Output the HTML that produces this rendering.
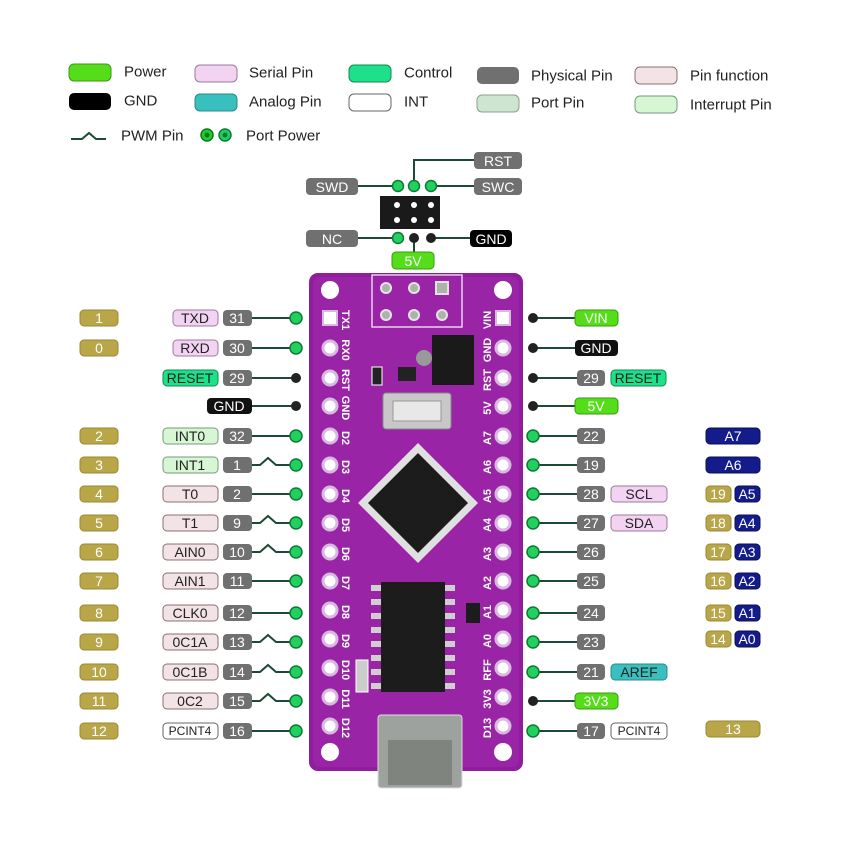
<!DOCTYPE html>
<html><head><meta charset="utf-8"><style>
html,body{margin:0;padding:0;background:#fff}
svg{display:block}
text{font-family:"Liberation Sans",sans-serif}
.l{font-size:14px;fill:#fff;text-anchor:middle;dominant-baseline:central}
.d{font-size:14px;fill:#222;text-anchor:middle;dominant-baseline:central}
.s{font-size:12px}
.lg{font-size:15px;fill:#222;dominant-baseline:central}
.ph{fill:#707070}
.ar{fill:#b8a648;stroke:#9a8a30;stroke-width:1}
.pk{fill:#f2d4f2;stroke:#9a7a9a;stroke-width:1}
.fn{fill:#f3e2e6;stroke:#8a7070;stroke-width:1}
.it{fill:#d6f6d4;stroke:#7a9a7a;stroke-width:1}
.ct{fill:#1fe08a;stroke:#128a50;stroke-width:1}
.pw{fill:#55dd1a;stroke:#3a9a10;stroke-width:1}
.bl{fill:#141c8c;stroke:#0a0f50;stroke-width:1}
.wt{fill:#fff;stroke:#666;stroke-width:1}
.ln{stroke:#1d4a35;stroke-width:2;fill:none}
.gd{fill:#22d060;stroke:#0d7a35;stroke-width:1.5}
.hole{fill:#fff;stroke:#d8b8e0;stroke-width:3}
.pl{fill:#fff;font-size:11px;font-weight:bold;dominant-baseline:central;text-anchor:middle}
</style></head><body>
<svg width="850" height="850" viewBox="0 0 850 850" xmlns="http://www.w3.org/2000/svg">
<!-- Legend -->
<rect x="69" y="64" width="42" height="17" rx="5" class="pw"/><text x="124" y="72" class="lg">Power</text>
<rect x="69" y="93" width="42" height="17" rx="5" fill="#000"/><text x="124" y="101" class="lg">GND</text>
<rect x="195" y="65" width="42" height="17" rx="5" class="pk"/><text x="249" y="73" class="lg">Serial Pin</text>
<rect x="195" y="94" width="42" height="17" rx="5" fill="#3abfbf" stroke="#2a8a8a"/><text x="249" y="102" class="lg">Analog Pin</text>
<rect x="349" y="65" width="42" height="17" rx="5" class="ct"/><text x="404" y="73" class="lg">Control</text>
<rect x="349" y="94" width="42" height="17" rx="5" class="wt"/><text x="404" y="102" class="lg">INT</text>
<rect x="477" y="67" width="42" height="17" rx="5" class="ph"/><text x="531" y="76" class="lg">Physical Pin</text>
<rect x="477" y="95" width="42" height="17" rx="5" fill="#cde6d2" stroke="#8aa08a"/><text x="531" y="103" class="lg">Port Pin</text>
<rect x="635" y="67" width="42" height="17" rx="5" class="fn"/><text x="690" y="76" class="lg">Pin function</text>
<rect x="635" y="96" width="42" height="17" rx="5" class="it"/><text x="690" y="105" class="lg">Interrupt Pin</text>
<path d="M71 139 L82 139 L89 133 L96 139 L106 139" class="ln"/><text x="121" y="136" class="lg">PWM Pin</text>
<circle cx="207" cy="135" r="6" fill="#22cc33" stroke="#0a7a15" stroke-width="1.5"/><circle cx="207" cy="135" r="2.5" fill="#0a7a15"/>
<circle cx="225" cy="135" r="6" class="gd" fill="#2ee090"/><circle cx="225" cy="135" r="2.5" fill="#0a7a35"/>
<text x="246" y="136" class="lg">Port Power</text>

<!-- ICSP header labels -->
<rect x="380" y="196" width="60" height="33" fill="#1a1a1a"/>
<g fill="#fff"><circle cx="397" cy="205" r="3"/><circle cx="414" cy="205" r="3"/><circle cx="431" cy="205" r="3"/><circle cx="397" cy="220" r="3"/><circle cx="414" cy="220" r="3"/><circle cx="431" cy="220" r="3"/></g>
<path d="M358 186 L398 186 M431 186 L474 186 M414 186 L414 160 L474 160 M358 238 L398 238 M431 238 L470 238 M414 238 L414 252" class="ln"/>
<rect x="306" y="178" width="52" height="17" rx="4" class="ph"/><text x="332" y="187" class="l">SWD</text>
<rect x="474" y="152" width="48" height="17" rx="4" class="ph"/><text x="498" y="161" class="l">RST</text>
<rect x="474" y="178" width="48" height="17" rx="4" class="ph"/><text x="498" y="187" class="l">SWC</text>
<rect x="306" y="230" width="52" height="17" rx="4" class="ph"/><text x="332" y="239" class="l">NC</text>
<rect x="470" y="230" width="42" height="17" rx="4" fill="#000"/><text x="491" y="239" class="l">GND</text>
<rect x="392" y="252" width="42" height="17" rx="4" class="pw"/><text x="413" y="261" class="l">5V</text>
<circle cx="398" cy="186" r="5.5" class="gd"/><circle cx="414" cy="186" r="5.5" class="gd"/><circle cx="431" cy="186" r="5.5" class="gd"/>
<circle cx="398" cy="238" r="5.5" class="gd"/><circle cx="414" cy="238" r="5" fill="#222"/><circle cx="431" cy="238" r="5" fill="#222"/>

<!-- Board -->
<rect x="309" y="273" width="214" height="498" rx="9" fill="#8f1d9c"/>
<rect x="313" y="277" width="206" height="490" rx="7" fill="#9a24a6"/>
<rect x="372" y="275" width="90" height="52" fill="none" stroke="#e9d0ef" stroke-width="1.5"/>
<g fill="#aab5a8" stroke="#e7e0e7" stroke-width="2"><circle cx="386" cy="288" r="5"/><circle cx="414" cy="288" r="5"/><rect x="436" y="282" width="12" height="12"/><circle cx="386" cy="315" r="5"/><circle cx="414" cy="315" r="5"/><circle cx="442" cy="315" r="5"/></g>
<circle cx="330" cy="290" r="9" fill="#fff"/><circle cx="503" cy="290" r="9" fill="#fff"/>
<circle cx="330" cy="752" r="9" fill="#fff"/><circle cx="503" cy="752" r="9" fill="#fff"/>
<!-- pin holes -->
<g>
<rect x="323" y="311" width="14" height="14" fill="#fff" stroke="#d8b8e0" stroke-width="2"/>
<circle cx="330" cy="348" r="7" class="hole"/><circle cx="330" cy="378" r="7" class="hole"/><circle cx="330" cy="406" r="7" class="hole"/><circle cx="330" cy="436" r="7" class="hole"/><circle cx="330" cy="465" r="7" class="hole"/><circle cx="330" cy="494" r="7" class="hole"/><circle cx="330" cy="523" r="7" class="hole"/><circle cx="330" cy="552" r="7" class="hole"/><circle cx="330" cy="581" r="7" class="hole"/><circle cx="330" cy="610" r="7" class="hole"/><circle cx="330" cy="639" r="7" class="hole"/><circle cx="330" cy="668" r="7" class="hole"/><circle cx="330" cy="697" r="7" class="hole"/><circle cx="330" cy="726" r="7" class="hole"/>
<rect x="496" y="311" width="14" height="14" fill="#fff" stroke="#d8b8e0" stroke-width="2"/>
<circle cx="503" cy="348" r="7" class="hole"/><circle cx="503" cy="378" r="7" class="hole"/><circle cx="503" cy="406" r="7" class="hole"/><circle cx="503" cy="436" r="7" class="hole"/><circle cx="503" cy="465" r="7" class="hole"/><circle cx="503" cy="494" r="7" class="hole"/><circle cx="503" cy="523" r="7" class="hole"/><circle cx="503" cy="552" r="7" class="hole"/><circle cx="503" cy="581" r="7" class="hole"/><circle cx="503" cy="610" r="7" class="hole"/><circle cx="503" cy="639" r="7" class="hole"/><circle cx="503" cy="668" r="7" class="hole"/><circle cx="503" cy="697" r="7" class="hole"/><circle cx="503" cy="726" r="7" class="hole"/>
</g>
<!-- silkscreen labels -->
<g class="pl">
<text transform="translate(345,320) rotate(90)">TX1</text><text transform="translate(345,350) rotate(90)">RX0</text><text transform="translate(345,380) rotate(90)">RST</text><text transform="translate(345,408) rotate(90)">GND</text><text transform="translate(345,438) rotate(90)">D2</text><text transform="translate(345,467) rotate(90)">D3</text><text transform="translate(345,496) rotate(90)">D4</text><text transform="translate(345,525) rotate(90)">D5</text><text transform="translate(345,554) rotate(90)">D6</text><text transform="translate(345,583) rotate(90)">D7</text><text transform="translate(345,612) rotate(90)">D8</text><text transform="translate(345,641) rotate(90)">D9</text><text transform="translate(345,670) rotate(90)">D10</text><text transform="translate(345,699) rotate(90)">D11</text><text transform="translate(345,728) rotate(90)">D12</text>
<text transform="translate(488,320) rotate(-90)">VIN</text><text transform="translate(488,350) rotate(-90)">GND</text><text transform="translate(488,380) rotate(-90)">RST</text><text transform="translate(488,408) rotate(-90)">5V</text><text transform="translate(488,438) rotate(-90)">A7</text><text transform="translate(488,467) rotate(-90)">A6</text><text transform="translate(488,496) rotate(-90)">A5</text><text transform="translate(488,525) rotate(-90)">A4</text><text transform="translate(488,554) rotate(-90)">A3</text><text transform="translate(488,583) rotate(-90)">A2</text><text transform="translate(488,612) rotate(-90)">A1</text><text transform="translate(488,641) rotate(-90)">A0</text><text transform="translate(488,670) rotate(-90)">RFF</text><text transform="translate(488,699) rotate(-90)">3V3</text><text transform="translate(488,728) rotate(-90)">D13</text>
</g>
<!-- components -->
<rect x="432" y="335" width="42" height="50" fill="#1a1a1a"/><circle cx="424" cy="358" r="8" fill="#999"/>
<rect x="383" y="393" width="68" height="36" rx="3" fill="#c8c8c8" stroke="#888"/><rect x="393" y="401" width="48" height="20" fill="#e8e8e8" stroke="#999"/>
<rect x="372" y="367" width="10" height="18" fill="#222" stroke="#fff"/><rect x="398" y="367" width="18" height="14" fill="#222"/>
<polygon points="418,443 478,503 418,563 358,503" fill="#e0e0e0"/>
<polygon points="418,453 468,503 418,553 368,503" fill="#1c1c1c"/>
<rect x="381" y="582" width="64" height="110" fill="#1c1c1c"/>
<g fill="#cfcfcf"><rect x="371" y="585" width="10" height="6"/><rect x="371" y="599" width="10" height="6"/><rect x="371" y="613" width="10" height="6"/><rect x="371" y="627" width="10" height="6"/><rect x="371" y="641" width="10" height="6"/><rect x="371" y="655" width="10" height="6"/><rect x="371" y="669" width="10" height="6"/><rect x="371" y="683" width="10" height="6"/><rect x="445" y="585" width="10" height="6"/><rect x="445" y="599" width="10" height="6"/><rect x="445" y="613" width="10" height="6"/><rect x="445" y="627" width="10" height="6"/><rect x="445" y="641" width="10" height="6"/><rect x="445" y="655" width="10" height="6"/><rect x="445" y="669" width="10" height="6"/><rect x="445" y="683" width="10" height="6"/></g>
<rect x="356" y="660" width="12" height="32" fill="#ccc" stroke="#fff"/>
<rect x="466" y="603" width="14" height="20" fill="#1c1c1c"/>
<rect x="378" y="715" width="84" height="73" rx="3" fill="#9ea29e" stroke="#ddd"/>
<rect x="388" y="740" width="64" height="45" fill="#7f847f"/>
<!-- left side -->
<g class="ln"><path d="M252 318 H296 M252 348 H296 M252 378 H296 M252 406 H296 M252 436 H296 M252 465 H260 L268 458 L276 465 H296 M252 494 H296 M252 523 H260 L268 516 L276 523 H296 M252 552 H260 L268 545 L276 552 H296 M252 581 H296 M252 613 H296 M252 642 H260 L268 635 L276 642 H296 M252 672 H260 L268 665 L276 672 H296 M252 701 H260 L268 694 L276 701 H296 M252 731 H296"/>
<path d="M533 318 H577 M533 348 H577 M533 378 H577 M533 406 H577 M533 436 H577 M533 465 H577 M533 494 H577 M533 523 H577 M533 552 H577 M533 581 H577 M533 613 H577 M533 642 H577 M533 672 H577 M533 701 H577 M533 731 H577"/></g>
<g>
<circle cx="296" cy="318" r="6" class="gd"/><circle cx="296" cy="348" r="6" class="gd"/><circle cx="296" cy="378" r="5" fill="#222"/><circle cx="296" cy="406" r="5" fill="#222"/><circle cx="296" cy="436" r="6" class="gd"/><circle cx="296" cy="465" r="6" class="gd"/><circle cx="296" cy="494" r="6" class="gd"/><circle cx="296" cy="523" r="6" class="gd"/><circle cx="296" cy="552" r="6" class="gd"/><circle cx="296" cy="581" r="6" class="gd"/><circle cx="296" cy="613" r="6" class="gd"/><circle cx="296" cy="642" r="6" class="gd"/><circle cx="296" cy="672" r="6" class="gd"/><circle cx="296" cy="701" r="6" class="gd"/><circle cx="296" cy="731" r="6" class="gd"/>
<circle cx="533" cy="318" r="5" fill="#222"/><circle cx="533" cy="348" r="5" fill="#222"/><circle cx="533" cy="378" r="5" fill="#222"/><circle cx="533" cy="406" r="5" fill="#222"/><circle cx="533" cy="436" r="6" class="gd"/><circle cx="533" cy="465" r="6" class="gd"/><circle cx="533" cy="494" r="6" class="gd"/><circle cx="533" cy="523" r="6" class="gd"/><circle cx="533" cy="552" r="6" class="gd"/><circle cx="533" cy="581" r="6" class="gd"/><circle cx="533" cy="613" r="6" class="gd"/><circle cx="533" cy="642" r="6" class="gd"/><circle cx="533" cy="672" r="6" class="gd"/><circle cx="533" cy="701" r="5" fill="#222"/><circle cx="533" cy="731" r="6" class="gd"/>
</g>
<!-- left arduino numbers -->
<g>
<rect x="80" y="310" width="38" height="16" rx="4" class="ar"/><text x="99" y="318" class="l">1</text>
<rect x="80" y="340" width="38" height="16" rx="4" class="ar"/><text x="99" y="348" class="l">0</text>
<rect x="80" y="428" width="38" height="16" rx="4" class="ar"/><text x="99" y="436" class="l">2</text>
<rect x="80" y="457" width="38" height="16" rx="4" class="ar"/><text x="99" y="465" class="l">3</text>
<rect x="80" y="486" width="38" height="16" rx="4" class="ar"/><text x="99" y="494" class="l">4</text>
<rect x="80" y="515" width="38" height="16" rx="4" class="ar"/><text x="99" y="523" class="l">5</text>
<rect x="80" y="544" width="38" height="16" rx="4" class="ar"/><text x="99" y="552" class="l">6</text>
<rect x="80" y="573" width="38" height="16" rx="4" class="ar"/><text x="99" y="581" class="l">7</text>
<rect x="80" y="605" width="38" height="16" rx="4" class="ar"/><text x="99" y="613" class="l">8</text>
<rect x="80" y="634" width="38" height="16" rx="4" class="ar"/><text x="99" y="642" class="l">9</text>
<rect x="80" y="664" width="38" height="16" rx="4" class="ar"/><text x="99" y="672" class="l">10</text>
<rect x="80" y="693" width="38" height="16" rx="4" class="ar"/><text x="99" y="701" class="l">11</text>
<rect x="80" y="723" width="38" height="16" rx="4" class="ar"/><text x="99" y="731" class="l">12</text>
</g>
<!-- left function labels -->
<g>
<rect x="173" y="310" width="45" height="16" rx="4" class="pk"/><text x="195" y="318" class="d">TXD</text>
<rect x="173" y="340" width="45" height="16" rx="4" class="pk"/><text x="195" y="348" class="d">RXD</text>
<rect x="163" y="370" width="55" height="16" rx="4" class="ct"/><text x="190" y="378" class="d">RESET</text>
<rect x="207" y="398" width="45" height="16" rx="4" fill="#111"/><text x="229" y="406" class="l">GND</text>
<rect x="163" y="428" width="55" height="16" rx="4" class="it"/><text x="190" y="436" class="d">INT0</text>
<rect x="163" y="457" width="55" height="16" rx="4" class="it"/><text x="190" y="465" class="d">INT1</text>
<rect x="163" y="486" width="55" height="16" rx="4" class="fn"/><text x="190" y="494" class="d">T0</text>
<rect x="163" y="515" width="55" height="16" rx="4" class="fn"/><text x="190" y="523" class="d">T1</text>
<rect x="163" y="544" width="55" height="16" rx="4" class="fn"/><text x="190" y="552" class="d">AIN0</text>
<rect x="163" y="573" width="55" height="16" rx="4" class="fn"/><text x="190" y="581" class="d">AIN1</text>
<rect x="163" y="605" width="55" height="16" rx="4" class="fn"/><text x="190" y="613" class="d">CLK0</text>
<rect x="163" y="634" width="55" height="16" rx="4" class="fn"/><text x="190" y="642" class="d">0C1A</text>
<rect x="163" y="664" width="55" height="16" rx="4" class="fn"/><text x="190" y="672" class="d">0C1B</text>
<rect x="163" y="693" width="55" height="16" rx="4" class="fn"/><text x="190" y="701" class="d">0C2</text>
<rect x="163" y="723" width="55" height="16" rx="4" class="wt"/><text x="190" y="731" class="d s">PCINT4</text>
</g>
<!-- left physical -->
<g>
<rect x="223" y="310" width="29" height="16" rx="4" class="ph"/><text x="237" y="318" class="l">31</text>
<rect x="223" y="340" width="29" height="16" rx="4" class="ph"/><text x="237" y="348" class="l">30</text>
<rect x="223" y="370" width="29" height="16" rx="4" class="ph"/><text x="237" y="378" class="l">29</text>
<rect x="223" y="428" width="29" height="16" rx="4" class="ph"/><text x="237" y="436" class="l">32</text>
<rect x="223" y="457" width="29" height="16" rx="4" class="ph"/><text x="237" y="465" class="l">1</text>
<rect x="223" y="486" width="29" height="16" rx="4" class="ph"/><text x="237" y="494" class="l">2</text>
<rect x="223" y="515" width="29" height="16" rx="4" class="ph"/><text x="237" y="523" class="l">9</text>
<rect x="223" y="544" width="29" height="16" rx="4" class="ph"/><text x="237" y="552" class="l">10</text>
<rect x="223" y="573" width="29" height="16" rx="4" class="ph"/><text x="237" y="581" class="l">11</text>
<rect x="223" y="605" width="29" height="16" rx="4" class="ph"/><text x="237" y="613" class="l">12</text>
<rect x="223" y="634" width="29" height="16" rx="4" class="ph"/><text x="237" y="642" class="l">13</text>
<rect x="223" y="664" width="29" height="16" rx="4" class="ph"/><text x="237" y="672" class="l">14</text>
<rect x="223" y="693" width="29" height="16" rx="4" class="ph"/><text x="237" y="701" class="l">15</text>
<rect x="223" y="723" width="29" height="16" rx="4" class="ph"/><text x="237" y="731" class="l">16</text>
</g>
<!-- right side -->
<g>
<rect x="575" y="310" width="43" height="16" rx="4" class="pw"/><text x="596" y="318" class="l">VIN</text>
<rect x="575" y="340" width="43" height="16" rx="4" fill="#111"/><text x="596" y="348" class="l">GND</text>
<rect x="577" y="370" width="28" height="16" rx="4" class="ph"/><text x="591" y="378" class="l">29</text>
<rect x="611" y="370" width="55" height="16" rx="4" class="ct"/><text x="638" y="378" class="d">RESET</text>
<rect x="575" y="398" width="43" height="16" rx="4" class="pw"/><text x="596" y="406" class="l">5V</text>
<rect x="577" y="428" width="28" height="16" rx="4" class="ph"/><text x="591" y="436" class="l">22</text>
<rect x="577" y="457" width="28" height="16" rx="4" class="ph"/><text x="591" y="465" class="l">19</text>
<rect x="577" y="486" width="28" height="16" rx="4" class="ph"/><text x="591" y="494" class="l">28</text>
<rect x="611" y="486" width="56" height="16" rx="4" class="pk"/><text x="639" y="494" class="d">SCL</text>
<rect x="577" y="515" width="28" height="16" rx="4" class="ph"/><text x="591" y="523" class="l">27</text>
<rect x="611" y="515" width="56" height="16" rx="4" class="pk"/><text x="639" y="523" class="d">SDA</text>
<rect x="577" y="544" width="28" height="16" rx="4" class="ph"/><text x="591" y="552" class="l">26</text>
<rect x="577" y="573" width="28" height="16" rx="4" class="ph"/><text x="591" y="581" class="l">25</text>
<rect x="577" y="605" width="28" height="16" rx="4" class="ph"/><text x="591" y="613" class="l">24</text>
<rect x="577" y="634" width="28" height="16" rx="4" class="ph"/><text x="591" y="642" class="l">23</text>
<rect x="577" y="664" width="28" height="16" rx="4" class="ph"/><text x="591" y="672" class="l">21</text>
<rect x="611" y="664" width="56" height="16" rx="4" fill="#3abfbf" stroke="#2a8a8a"/><text x="639" y="672" class="d">AREF</text>
<rect x="575" y="693" width="43" height="16" rx="4" class="pw"/><text x="596" y="701" class="l">3V3</text>
<rect x="577" y="723" width="28" height="16" rx="4" class="ph"/><text x="591" y="731" class="l">17</text>
<rect x="611" y="723" width="56" height="16" rx="4" class="wt"/><text x="639" y="731" class="d s">PCINT4</text>
<!-- far right -->
<rect x="706" y="428" width="54" height="16" rx="4" class="bl"/><text x="733" y="436" class="l">A7</text>
<rect x="706" y="457" width="54" height="16" rx="4" class="bl"/><text x="733" y="465" class="l">A6</text>
<rect x="706" y="486" width="25" height="16" rx="4" class="ar"/><text x="718" y="494" class="l">19</text><rect x="735" y="486" width="25" height="16" rx="4" class="bl"/><text x="747" y="494" class="l">A5</text>
<rect x="706" y="515" width="25" height="16" rx="4" class="ar"/><text x="718" y="523" class="l">18</text><rect x="735" y="515" width="25" height="16" rx="4" class="bl"/><text x="747" y="523" class="l">A4</text>
<rect x="706" y="544" width="25" height="16" rx="4" class="ar"/><text x="718" y="552" class="l">17</text><rect x="735" y="544" width="25" height="16" rx="4" class="bl"/><text x="747" y="552" class="l">A3</text>
<rect x="706" y="573" width="25" height="16" rx="4" class="ar"/><text x="718" y="581" class="l">16</text><rect x="735" y="573" width="25" height="16" rx="4" class="bl"/><text x="747" y="581" class="l">A2</text>
<rect x="706" y="605" width="25" height="16" rx="4" class="ar"/><text x="718" y="613" class="l">15</text><rect x="735" y="605" width="25" height="16" rx="4" class="bl"/><text x="747" y="613" class="l">A1</text>
<rect x="706" y="631" width="25" height="16" rx="4" class="ar"/><text x="718" y="639" class="l">14</text><rect x="735" y="631" width="25" height="16" rx="4" class="bl"/><text x="747" y="639" class="l">A0</text>
<rect x="706" y="721" width="54" height="16" rx="4" class="ar"/><text x="733" y="729" class="l">13</text>
</g>
</svg>
</body></html>
